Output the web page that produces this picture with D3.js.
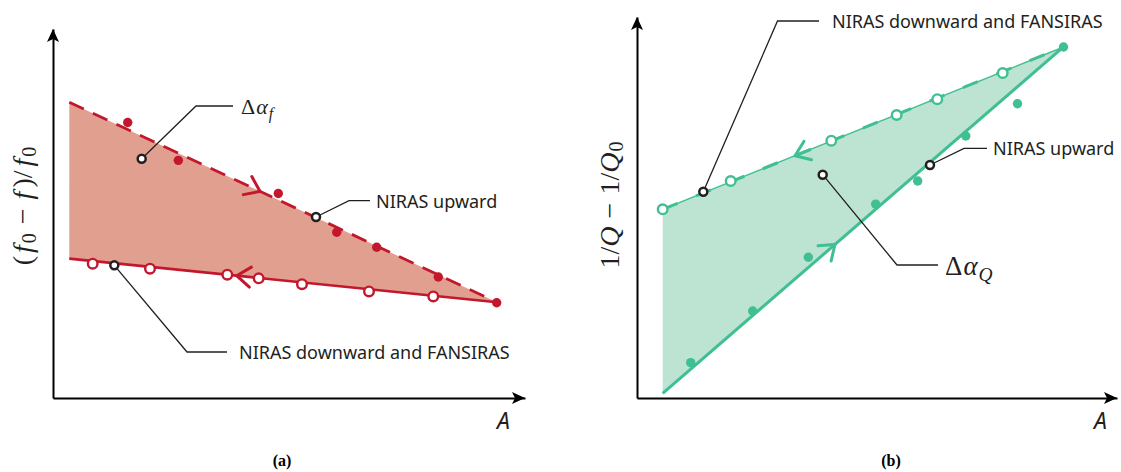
<!DOCTYPE html>
<html><head><meta charset="utf-8">
<script src="https://cdn.jsdelivr.net/npm/d3@7"></script>
<style>body{margin:0;background:#fff}</style>
</head><body>
<svg id="c" width="1121" height="472" xmlns="http://www.w3.org/2000/svg"></svg>
<script>
// ---------- DATA (arbitrary units) ----------
// Panel (a): (f0 - f)/f0 vs A
const aUpperFitX = [0.345, 9.407];          // NIRAS upward fit (dashed)
const aUpperFitY = [8.016, 2.595];
const aLowerFitX = [0.345, 9.407];          // NIRAS downward and FANSIRAS fit (solid)
const aLowerFitY = [3.777, 2.595];
const aUpwardX = [1.583, 2.655, 4.773, 6.011, 6.858, 8.163, 9.400];
const aUpwardY = [7.465, 6.440, 5.543, 4.492, 4.084, 3.280, 2.582];
const aDownX   = [0.841, 2.055, 3.693, 4.358, 5.275, 6.695, 8.057];
const aDownY   = [3.641, 3.505, 3.342, 3.242, 3.084, 2.889, 2.753];
const aMarkX   = [1.879, 5.572, 1.299];
const aMarkY   = [6.486, 4.905, 3.595];
const aArrowX  = [4.386, 3.892];            // direction arrows on upper / lower fit
// Panel (b): 1/Q - 1/Q0 vs A
const bUpperFitX = [0.535, 8.885];          // NIRAS downward and FANSIRAS fit
const bUpperFitY = [4.953, 9.213];
const bLowerFitX = [0.535, 8.885];          // NIRAS upward fit
const bLowerFitY = [0.123, 9.213];
const bDownX   = [0.535, 1.952, 4.048, 5.410, 6.256, 7.619];
const bDownY   = [4.953, 5.696, 6.753, 7.428, 7.843, 8.530];
const bUpwardX = [1.119, 2.410, 3.569, 4.973, 5.848, 6.850, 7.927, 8.885];
const bUpwardY = [0.927, 2.283, 3.693, 5.087, 5.696, 6.877, 7.722, 9.213];
const bMarkX   = [1.381, 3.869, 6.104];
const bMarkY   = [5.415, 5.861, 6.115];
const bArrowX  = [3.292, 4.125];
// Labels
const labelUp = "NIRAS upward";
const labelDown = "NIRAS downward and FANSIRAS";
const axisXLabel = "A";
const panelLabels = ["(a)", "(b)"];

// ---------- DRAW ----------
const svg = d3.select("#c");
const INK = "#231f20";
const SANS = "'Noto Sans', 'Open Sans', sans-serif";
const SERIF = "'Liberation Serif', 'DejaVu Serif', serif";

function panel(cfg) {
  const g = svg.append("g");
  const x = d3.scaleLinear().domain([0, 10]).range(cfg.xr);
  const y = d3.scaleLinear().domain([0, 10]).range(cfg.yr);
  const P = (xs, ys) => xs.map((v, i) => [x(v), y(ys[i])]);
  const up = P(cfg.upX, cfg.upY), lo = P(cfg.loX, cfg.loY);

  // fill region
  g.append("path").attr("d", d3.line()([up[0], up[1], lo[0]]) + "Z")
    .attr("fill", cfg.fill).attr("stroke", "none");

  // axes (no ticks)
  g.append("g").attr("transform", `translate(0,${cfg.yr[0]})`)
    .call(d3.axisBottom(x).tickValues([]).tickSizeOuter(0))
    .select(".domain").attr("stroke", "#000").attr("stroke-width", 2);
  g.append("g").attr("transform", `translate(${cfg.xr[0]},0)`)
    .call(d3.axisLeft(y).tickValues([]).tickSizeOuter(0))
    .select(".domain").attr("stroke", "#000").attr("stroke-width", 2);
  // arrow heads
  const ax = cfg.xr[1], ay = cfg.yr[0], yx = cfg.xr[0], yt = cfg.yr[1];
  g.append("path").attr("d", `M${ax},${ay} L${ax-13},${ay-6} L${ax-10},${ay} L${ax-13},${ay+6}Z`).attr("fill", "#000");
  g.append("path").attr("d", `M${yx},${yt} L${yx-6},${yt+13} L${yx},${yt+10} L${yx+6},${yt+13}Z`).attr("fill", "#000");

  // fit lines
  cfg.drawLines(g, up, lo);

  // direction chevrons
  function chevron(pts, xv, dir) {
    const [p0, p1] = pts;
    const t = (x(xv) - p0[0]) / (p1[0] - p0[0]);
    const tip = [p0[0] + t * (p1[0] - p0[0]), p0[1] + t * (p1[1] - p0[1])];
    let ux = (p1[0] - p0[0]) * dir, uy = (p1[1] - p0[1]) * dir;
    const n = Math.hypot(ux, uy); ux /= n; uy /= n;
    const L = 17, th = 36 * Math.PI / 180;
    const leg = s => [tip[0] - L * (ux * Math.cos(s*th) - uy * Math.sin(s*th)),
                      tip[1] - L * (ux * Math.sin(s*th) + uy * Math.cos(s*th))];
    g.append("path").attr("d", d3.line()([leg(1), tip, leg(-1)]))
      .attr("fill", "none").attr("stroke", cfg.color).attr("stroke-width", 3)
      .attr("stroke-linecap", "round").attr("stroke-linejoin", "miter");
  }
  chevron(up, cfg.arrowX[0], cfg.arrowDir[0]);
  chevron(lo, cfg.arrowX[1], cfg.arrowDir[1]);

  // data points
  g.selectAll(null).data(P(cfg.fillX, cfg.fillY)).join("circle")
    .attr("cx", d => d[0]).attr("cy", d => d[1]).attr("r", 4.7).attr("fill", cfg.color);
  g.selectAll(null).data(P(cfg.openX, cfg.openY)).join("circle")
    .attr("cx", d => d[0]).attr("cy", d => d[1]).attr("r", 4.8)
    .attr("fill", "#fff").attr("stroke", cfg.color).attr("stroke-width", 2.4);

  // annotations
  const marks = P(cfg.markX, cfg.markY);
  cfg.notes.forEach((nt, i) => {
    const m = marks[i];
    const e = [nt.elbow[0], nt.elbow[1]];
    g.append("path").attr("d", d3.line()([m, e, [nt.end, e[1]]]))
      .attr("fill", "none").attr("stroke", INK).attr("stroke-width", 1.3);
    nt.text(g, nt.end + nt.gap, e[1]);
  });
  g.selectAll(null).data(marks).join("circle")
    .attr("cx", d => d[0]).attr("cy", d => d[1]).attr("r", 4)
    .attr("fill", "#fff").attr("stroke", INK).attr("stroke-width", 2.5);

  // axis title A
  g.append("text").attr("x", cfg.aLabel[0]).attr("y", cfg.aLabel[1])
    .attr("font-family", SANS).attr("font-style", "italic").attr("font-size", 23)
    .attr("fill", INK).text(axisXLabel);
  // panel label
  g.append("text").attr("x", cfg.plabel[0]).attr("y", cfg.plabel[1]).attr("text-anchor", "middle")
    .attr("font-family", SERIF).attr("font-weight", "bold").attr("font-size", 16)
    .attr("fill", "#000").text(cfg.plabelText);
  // y label
  cfg.yLabel(g);
}

function sansLabel(str) {
  return (g, x0, y0) => g.append("text").attr("x", x0).attr("y", y0 + 6.8)
    .attr("font-family", SANS).attr("font-size", 18).attr("fill", INK).text(str);
}
function deltaLabel(sub, size) {
  return (g, x0, y0) => {
    const t = g.append("text").attr("x", x0).attr("y", y0 + size * 0.36)
      .attr("font-family", SERIF).attr("font-size", size).attr("fill", INK);
    t.append("tspan").text("Δ");
    t.append("tspan").attr("font-style", "italic").attr("dx", 1).text("α");
    t.append("tspan").attr("font-style", "italic").attr("font-size", size * 0.72)
      .attr("dy", size * 0.25).attr("dx", 1).text(sub);
  };
}

panel({
  xr: [53, 525], yr: [398, 29],
  upX: aUpperFitX, upY: aUpperFitY, loX: aLowerFitX, loY: aLowerFitY,
  color: "#c3172d", fill: "#e1a08f",
  drawLines: (g, up, lo) => {
    g.append("path").attr("d", d3.line()(lo)).attr("stroke", "#c3172d").attr("stroke-width", 2.6).attr("fill", "none");
    g.append("path").attr("d", d3.line()(up)).attr("stroke", "#c3172d").attr("stroke-width", 2.8)
      .attr("stroke-dasharray", "16,10").attr("fill", "none");
  },
  arrowX: aArrowX, arrowDir: [1, -1],
  fillX: aUpwardX, fillY: aUpwardY, openX: aDownX, openY: aDownY,
  markX: aMarkX, markY: aMarkY,
  notes: [
    { elbow: [196, 106], end: 233, gap: 8, text: deltaLabel("f", 22) },
    { elbow: [349, 200.7], end: 370, gap: 6, text: sansLabel(labelUp) },
    { elbow: [187, 352], end: 227, gap: 12, text: sansLabel(labelDown) }
  ],
  aLabel: [497, 429], plabel: [282, 466], plabelText: panelLabels[0],
  yLabel: g => {
    const t = g.append("text").attr("transform", "translate(32,206) rotate(-90)")
      .attr("text-anchor", "middle").attr("font-family", SERIF).attr("font-size", 28).attr("fill", INK);
    t.append("tspan").text("(");
    t.append("tspan").attr("font-style", "italic").attr("dx", 3).text("f");
    t.append("tspan").attr("font-size", 20).attr("dy", 4).attr("dx", 2).text("0");
    t.append("tspan").attr("dy", -4).attr("dx", 9).text("−");
    t.append("tspan").attr("font-style", "italic").attr("dx", 9).text("f");
    t.append("tspan").attr("dx", 4).text(")/");
    t.append("tspan").attr("font-style", "italic").attr("dx", 4).text("f");
    t.append("tspan").attr("font-size", 20).attr("dy", 4).attr("dx", 2).text("0");
  }
});

panel({
  xr: [637, 1117], yr: [398, 17],
  upX: bUpperFitX, upY: bUpperFitY, loX: bLowerFitX, loY: bLowerFitY,
  color: "#3fbf92", fill: "#bde3d2",
  drawLines: (g, up, lo) => {
    g.append("path").attr("d", d3.line()(lo)).attr("stroke", "#3fbf92").attr("stroke-width", 3).attr("fill", "none");
    g.append("path").attr("d", d3.line()(up)).attr("stroke", "#3fbf92").attr("stroke-width", 1.4).attr("fill", "none");
    g.append("path").attr("d", d3.line()(up)).attr("stroke", "#3fbf92").attr("stroke-width", 3)
      .attr("stroke-dasharray", "16,20").attr("fill", "none");
  },
  arrowX: bArrowX, arrowDir: [-1, 1],
  fillX: bUpwardX, fillY: bUpwardY, openX: bDownX, openY: bDownY,
  markX: bMarkX, markY: bMarkY,
  notes: [
    { elbow: [777.5, 21], end: 819, gap: 13, text: sansLabel(labelDown) },
    { elbow: [897, 265], end: 938, gap: 7, text: deltaLabel("Q", 27) },
    { elbow: [964, 148.3], end: 987, gap: 6, text: sansLabel(labelUp) }
  ],
  aLabel: [1094, 429], plabel: [891, 466], plabelText: panelLabels[1],
  yLabel: g => {
    const t = g.append("text").attr("transform", "translate(619,205) rotate(-90)")
      .attr("text-anchor", "middle").attr("font-family", SERIF).attr("font-size", 28).attr("fill", INK);
    t.append("tspan").text("1/");
    t.append("tspan").attr("font-style", "italic").text("Q");
    t.append("tspan").attr("dx", 8).text("−");
    t.append("tspan").attr("dx", 8).text("1/");
    t.append("tspan").attr("font-style", "italic").text("Q");
    t.append("tspan").attr("font-size", 20).attr("dy", 4).attr("dx", 1).text("0");
  }
});
</script>
</body></html>
